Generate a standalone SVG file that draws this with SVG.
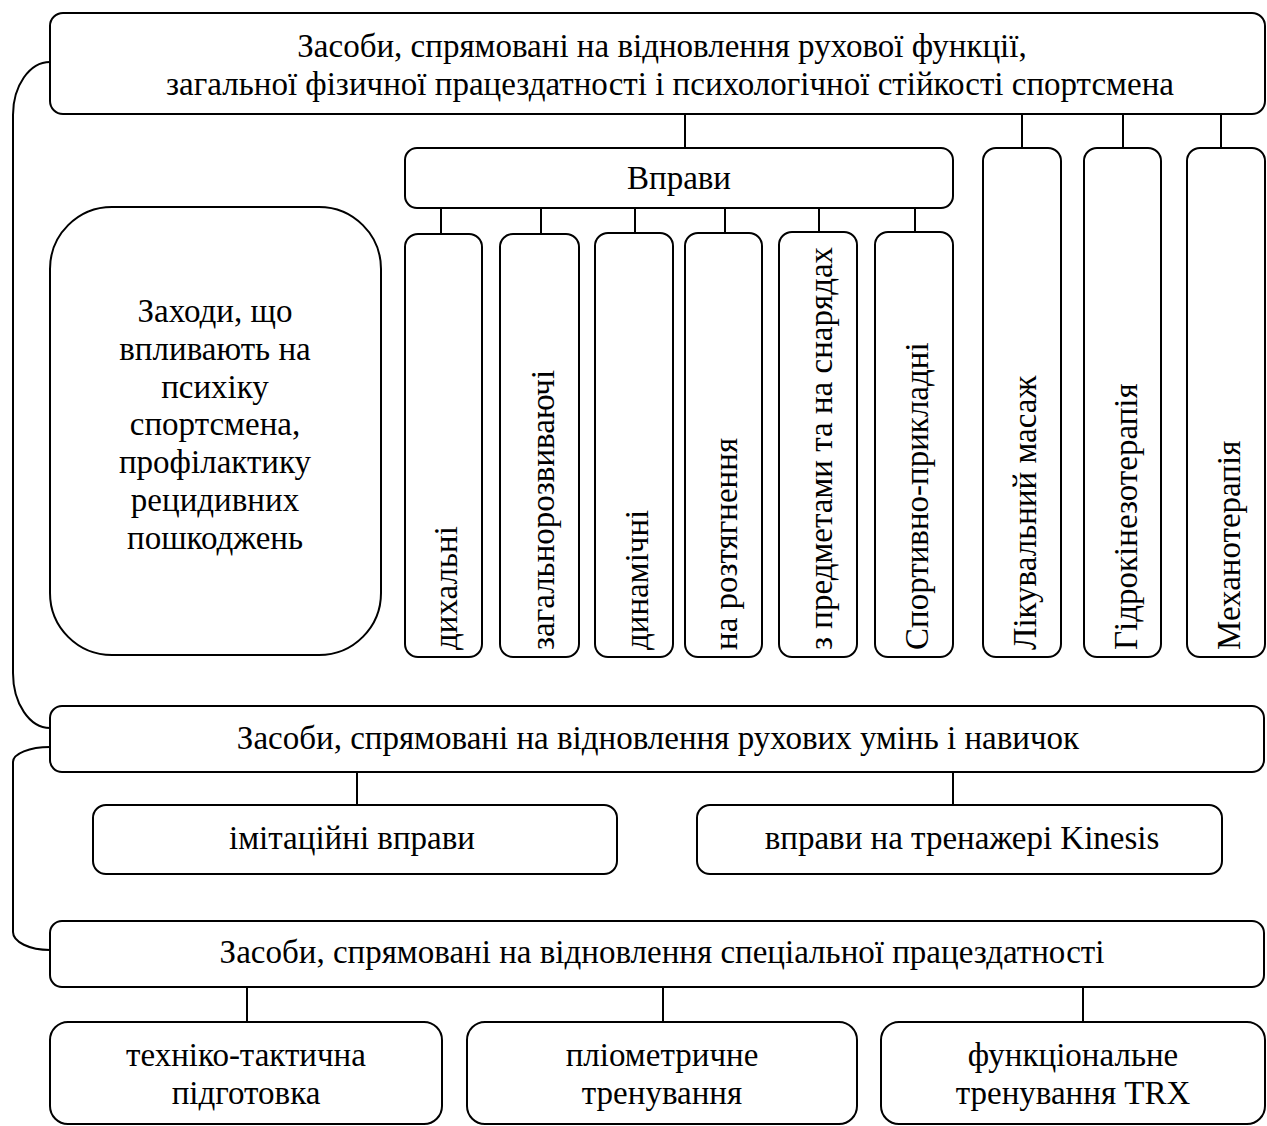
<svg xmlns="http://www.w3.org/2000/svg" width="1267" height="1126" viewBox="0 0 1267 1126">
<style>
.box{fill:#fff;stroke:#000;stroke-width:2}
.ln{fill:none;stroke:#000;stroke-width:2}
text{font-family:"Liberation Serif","Times New Roman",serif;font-size:33px;fill:#000}
.c{text-anchor:middle}
.v{text-anchor:start}
</style>
<rect width="1267" height="1126" fill="#fff"/>
<g id="connectors">
<path class="ln" d="M50,62 A37,53 0 0 0 13,115 L13,673 A37,55 0 0 0 50,728"/>
<path class="ln" d="M50,747 A37,15 0 0 0 13,762 L13,932 A37,18 0 0 0 50,950"/>
<path class="ln" d="M685,114 V148 M1022,114 V148 M1123,114 V148 M1221,114 V148"/>
<path class="ln" d="M441,208 V234 M541,208 V234 M635,208 V234 M725,208 V234 M819,208 V234 M915,208 V234"/>
<path class="ln" d="M357,772 V805 M953,772 V805"/>
<path class="ln" d="M247,987 V1022 M663,987 V1022 M1083,987 V1022"/>
</g>
<g id="top"><rect class="box" x="50" y="13" width="1215" height="101" rx="13"/>
<text class="c" x="662" y="57">Засоби, спрямовані на відновлення рухової функції,</text>
<text class="c" x="670" y="95">загальної фізичної працездатності і психологічної стійкості спортсмена</text></g>
<g id="vpravy"><rect class="box" x="405" y="148" width="548" height="60" rx="12"/>
<text class="c" x="679" y="189">Вправи</text></g>
<g id="zakhody"><rect class="box" x="50" y="207" width="331" height="448" rx="62"/>
<text class="c" x="215"><tspan x="215" y="322">Заходи, що</tspan><tspan x="215" y="360">впливають на</tspan><tspan x="215" y="398">психіку</tspan><tspan x="215" y="435">спортсмена,</tspan><tspan x="215" y="473">профілактику</tspan><tspan x="215" y="511">рецидивних</tspan><tspan x="215" y="549">пошкоджень</tspan></text></g>
<g id="dykhalni"><rect class="box" x="405" y="234" width="77" height="423" rx="13"/>
<text class="v" transform="translate(457,650) rotate(-90)">дихальні</text></g>
<g id="zahalno"><rect class="box" x="500" y="234" width="79" height="423" rx="13"/>
<text class="v" transform="translate(554,650) rotate(-90)">загальнорозвиваючі</text></g>
<g id="dynamichni"><rect class="box" x="595" y="233" width="78" height="424" rx="13"/>
<text class="v" transform="translate(648,650) rotate(-90)">динамічні</text></g>
<g id="roztyah"><rect class="box" x="685" y="233" width="77" height="424" rx="13"/>
<text class="v" transform="translate(737,650) rotate(-90)">на розтягнення</text></g>
<g id="predmety"><rect class="box" x="779" y="232" width="78" height="425" rx="13"/>
<text class="v" transform="translate(832,650) rotate(-90)">з предметами та на снарядах</text></g>
<g id="sportyvno"><rect class="box" x="875" y="232" width="78" height="425" rx="13"/>
<text class="v" transform="translate(928,650) rotate(-90)">Спортивно-прикладні</text></g>
<g id="masazh"><rect class="box" x="983" y="148" width="78" height="509" rx="13"/>
<text class="v" transform="translate(1036,650) rotate(-90)">Лікувальний масаж</text></g>
<g id="hidro"><rect class="box" x="1084" y="148" width="77" height="509" rx="13"/>
<text class="v" transform="translate(1137,650) rotate(-90)">Гідрокінезотерапія</text></g>
<g id="mekhano"><rect class="box" x="1187" y="148" width="78" height="509" rx="13"/>
<text class="v" transform="translate(1240,650) rotate(-90)">Механотерапія</text></g>
<g id="rukhovi"><rect class="box" x="50" y="706" width="1214" height="66" rx="12"/>
<text class="c" x="658" y="749">Засоби, спрямовані на відновлення рухових умінь і навичок</text></g>
<g id="imitatsiini"><rect class="box" x="93" y="805" width="524" height="69" rx="13"/>
<text class="c" x="352" y="849">імітаційні вправи</text></g>
<g id="kinesis"><rect class="box" x="697" y="805" width="525" height="69" rx="13"/>
<text class="c" x="962" y="849">вправи на тренажері Kinesis</text></g>
<g id="spetsialna"><rect class="box" x="50" y="921" width="1214" height="66" rx="12"/>
<text class="c" x="662" y="963">Засоби, спрямовані на відновлення спеціальної працездатності</text></g>
<g id="tekhniko"><rect class="box" x="50" y="1022" width="392" height="102" rx="18"/>
<text class="c" x="246" y="1066">техніко-тактична</text><text class="c" x="246" y="1104">підготовка</text></g>
<g id="pliometr"><rect class="box" x="467" y="1022" width="390" height="102" rx="18"/>
<text class="c" x="662" y="1066">пліометричне</text><text class="c" x="662" y="1104">тренування</text></g>
<g id="trx"><rect class="box" x="881" y="1022" width="384" height="102" rx="18"/>
<text class="c" x="1073" y="1066">функціональне</text><text class="c" x="1073" y="1104">тренування TRX</text></g>
</svg>
